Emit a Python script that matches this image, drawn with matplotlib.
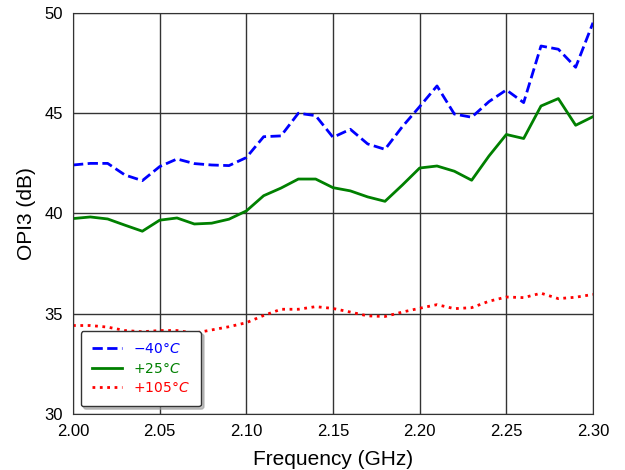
import numpy as np
import matplotlib
matplotlib.use("Agg")
import matplotlib.pyplot as plt

freq = np.round(np.arange(2.00, 2.3001, 0.01), 2)

opi3_m40 = [42.41, 42.49, 42.49, 41.91, 41.63, 42.33, 42.71, 42.48, 42.41, 42.38,
            42.78, 43.82, 43.86, 44.99, 44.87, 43.79, 44.19, 43.46, 43.19, 44.32,
            45.32, 46.35, 44.95, 44.79, 45.57, 46.15, 45.52, 48.34, 48.18, 47.28, 49.50]
opi3_p25 = [39.74, 39.82, 39.72, 39.41, 39.11, 39.66, 39.77, 39.47, 39.51, 39.71,
            40.12, 40.88, 41.26, 41.71, 41.71, 41.28, 41.12, 40.82, 40.60, 41.41,
            42.26, 42.36, 42.10, 41.65, 42.86, 43.93, 43.73, 45.35, 45.72, 44.39, 44.82]
opi3_p105 = [34.41, 34.41, 34.33, 34.16, 34.10, 34.16, 34.16, 34.03, 34.19, 34.35,
             34.55, 34.91, 35.22, 35.22, 35.35, 35.26, 35.08, 34.89, 34.86, 35.08,
             35.27, 35.45, 35.25, 35.30, 35.62, 35.83, 35.80, 36.02, 35.75, 35.82, 35.96]

labels = [r"$-40°C$", r"$+25°C$", r"$+105°C$"]
xticks = [2.00, 2.05, 2.10, 2.15, 2.20, 2.25, 2.30]
yticks = [30, 35, 40, 45, 50]

fig = plt.figure(figsize=(6.25, 4.7), dpi=100)
ax = fig.add_axes([73/625, 1-414/470, 520/625, (414-12.7)/470])

ax.plot(freq, opi3_m40, color="blue", ls="--", lw=2, label=labels[0])
ax.plot(freq, opi3_p25, color="green", ls="-", lw=2, label=labels[1])
ax.plot(freq, opi3_p105, color="red", ls=":", lw=2, label=labels[2])

ax.set_xlim(2.00, 2.30)
ax.set_ylim(30, 50)
ax.set_xticks(xticks)
ax.set_xticklabels([f"{t:.2f}" for t in xticks])
ax.set_yticks(yticks)
ax.set_yticklabels([str(t) for t in yticks])
ax.grid(True, color="#333333", lw=1, ls="-")
ax.set_axisbelow(True)
ax.tick_params(length=0, pad=7, labelsize=12)
for lab in ax.get_xticklabels() + ax.get_yticklabels():
    lab.set_family("Liberation Sans")
for sp in ax.spines.values():
    sp.set_color("#333333")
ax.set_xlabel("Frequency (GHz)", fontsize=15, family="Liberation Sans", labelpad=8)
ax.set_ylabel("OPI3 (dB)", fontsize=15, family="Liberation Sans", labelpad=6)

leg = ax.legend(loc="lower left", fontsize=10,
                labelcolor="linecolor", shadow={"color": "0.6", "alpha": 0.6},
                fancybox=True, framealpha=1,
                edgecolor="#333333", handlelength=2.2, handletextpad=0.8,
                borderpad=0.8, labelspacing=0.4, borderaxespad=0.55)

fig.savefig("out.png", dpi=100)
